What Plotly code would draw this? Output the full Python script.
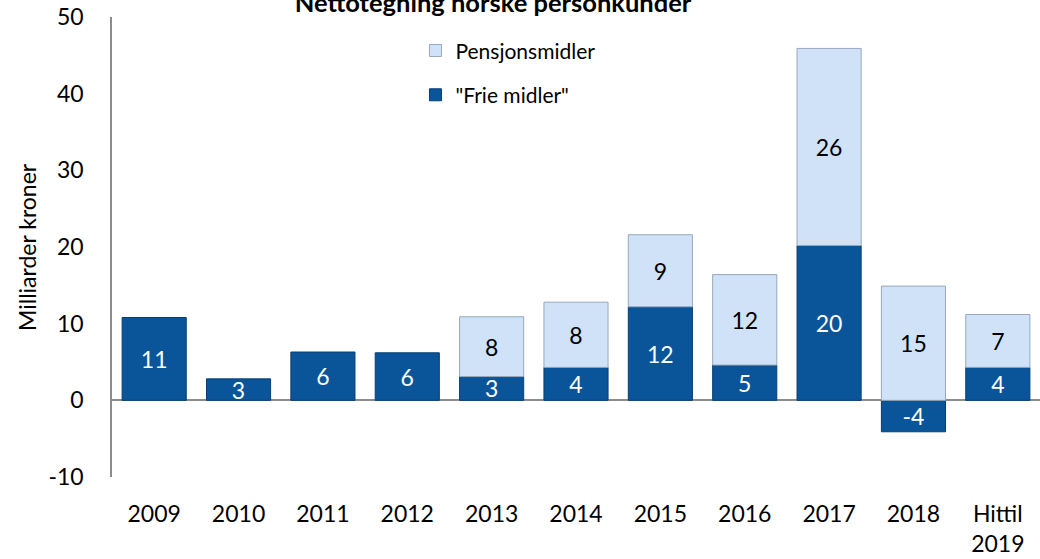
import plotly.graph_objects as go

categories = ["2009", "2010", "2011", "2012", "2013", "2014", "2015", "2016", "2017", "2018", "Hittil<br>2019"]
frie_midler = [10.8, 2.8, 6.3, 6.2, 3.1, 4.3, 12.2, 4.6, 20.2, -4.1, 4.3]
pensjonsmidler = [None, None, None, None, 7.8, 8.5, 9.4, 11.8, 25.7, 14.9, 6.9]
y_ticks = [-10, 0, 10, 20, 30, 40, 50]
y_tick_labels = ["-10", "0", "10", "20", "30", "40", "50"]

FONT = "Lato, Carlito, Calibri, sans-serif"

def fmt(v):
    return "" if v is None else f"{round(v):d}"

fig = go.Figure()
fig.add_trace(go.Bar(
    x=categories, y=frie_midler, name='"Frie midler"',
    marker=dict(color="#0a5499", line=dict(color="#063f75", width=1)),
    text=[fmt(v) for v in frie_midler], textposition="inside", textangle=0,
    insidetextanchor="middle", constraintext="none",
    textfont=dict(color="white", size=23, family=FONT),
    legendgroup="b", legendrank=2,
))
fig.add_trace(go.Bar(
    x=categories, y=pensjonsmidler, name="Pensjonsmidler",
    marker=dict(color="#cfe2f8", line=dict(color="#98a8ba", width=1)),
    text=[fmt(v) for v in pensjonsmidler], textposition="inside", textangle=0,
    insidetextanchor="middle", constraintext="none",
    textfont=dict(color="black", size=23, family=FONT),
    legendgroup="a", legendrank=1,
))

fig.update_layout(
    barmode="relative",
    bargap=0.24,
    width=1040, height=559,
    margin=dict(l=112, r=0, t=17, b=82),
    paper_bgcolor="white", plot_bgcolor="white",
    font=dict(family=FONT, size=23, color="black"),
    title=dict(text="<b>Nettotegning norske personkunder</b>", x=0.474, xanchor="center",
               y=0.9946, yanchor="middle", yref="container",
               font=dict(size=25.5, family=FONT, color="black")),
    showlegend=True,
    legend=dict(x=0.327, y=0.971, xanchor="left", yanchor="top",
                traceorder="grouped", tracegroupgap=14,
                font=dict(size=21, family=FONT), bgcolor="rgba(0,0,0,0)"),
    annotations=[dict(text="Milliarder kroner", textangle=-90, xref="paper", yref="paper",
                      x=(27 - 112) / 928, y=0.5, xanchor="center", yanchor="middle",
                      showarrow=False, font=dict(size=23, family=FONT))],
)
fig.update_yaxes(range=[-10, 50], tickvals=y_ticks, ticktext=y_tick_labels, showgrid=False,
                 showline=True, linecolor="#8c8c8c", linewidth=1.5,
                 zeroline=True, zerolinecolor="#8c8c8c", zerolinewidth=1.5,
                 ticks="outside", ticklen=22, tickcolor="rgba(0,0,0,0)",
                 tickfont=dict(size=23, family=FONT))
fig.update_xaxes(showgrid=False, showline=False, ticks="outside", ticklen=16,
                 tickcolor="rgba(0,0,0,0)", tickfont=dict(size=23, family=FONT))

fig.write_html("out.html", config={"displayModeBar": False},
               post_script="document.body.style.margin='0';document.body.style.padding='0';")
